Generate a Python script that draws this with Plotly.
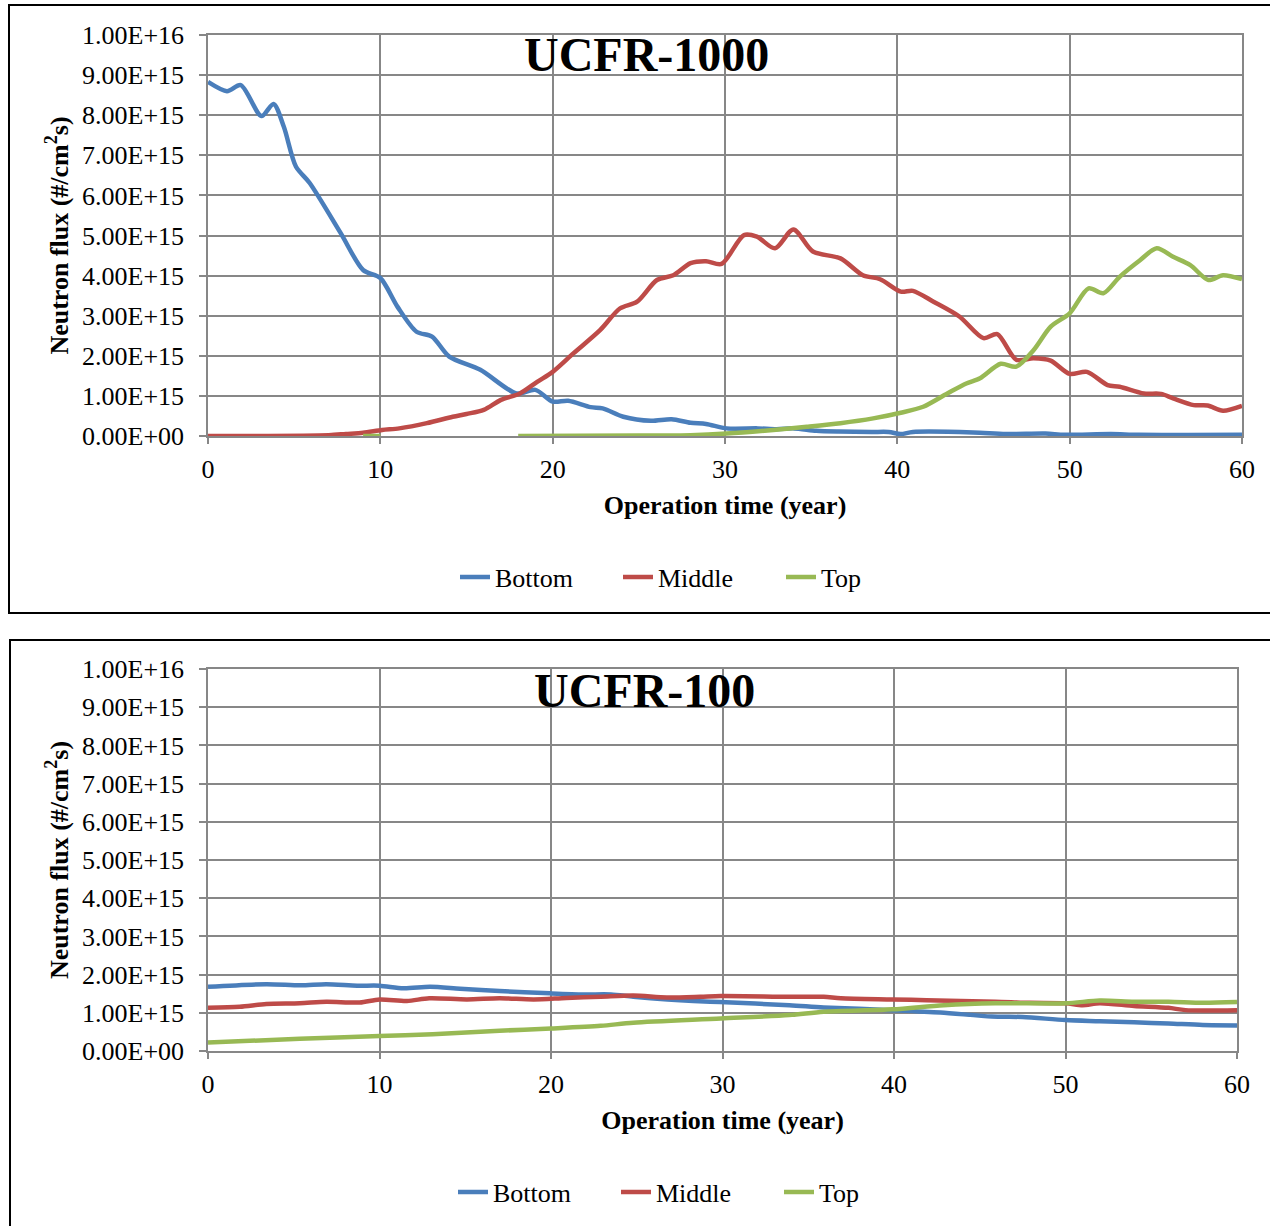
import plotly.graph_objects as go

# ---------------- data (values in units of 1e15 #/cm2s) ----------------
SCALE = 1e15

top_bottom_x = [0, 1.1, 1.9, 3.1, 3.8, 4.4, 5.1, 5.9, 7.7, 9.0, 10.0, 11.0, 12.1, 13.0, 14.0, 15.8,
                17.9, 19.0, 20.0, 20.9, 22.2, 22.9, 24.1, 25.7, 26.9, 28.0, 28.9, 30.1, 31.9, 33.0,
                34.0, 35.3, 36.6, 38.5, 39.5, 40.2, 40.9, 44.4, 46.3, 48.6, 49.7, 52.4, 54, 60]
top_bottom_y = [8.83, 8.6, 8.75, 7.98, 8.28, 7.71, 6.72, 6.31, 5.06, 4.14, 3.94, 3.22, 2.6, 2.48, 1.98, 1.65,
                1.06, 1.15, 0.86, 0.88, 0.72, 0.69, 0.48, 0.38, 0.42, 0.33, 0.30, 0.19, 0.19, 0.17,
                0.19, 0.13, 0.11, 0.10, 0.10, 0.05, 0.10, 0.09, 0.05, 0.06, 0.03, 0.05, 0.03, 0.03]

top_middle_x = [0, 7, 8, 9, 10.1, 11.1, 12.7, 14.2, 15.0, 16.0, 17.0, 18.1, 19.1, 20.0, 21.2, 22.75,
                23.9, 24.9, 26.05, 27.0, 28.0, 28.9, 29.8, 31.1, 31.85, 32.9, 33.97, 35.1, 36.7, 38.0,
                39.0, 40.2, 40.9, 42.1, 43.6, 45.0, 45.8, 46.9, 47.9, 48.9, 50.0, 51.0, 52.2, 52.9,
                54.3, 55.3, 56.0, 57.2, 58.0, 58.9, 60]
top_middle_y = [0.0, 0.02, 0.05, 0.08, 0.15, 0.19, 0.32, 0.48, 0.55, 0.65, 0.9, 1.06, 1.35, 1.6, 2.06, 2.64,
                3.18, 3.35, 3.89, 4.01, 4.31, 4.36, 4.29, 5.01, 4.97, 4.68, 5.15, 4.6, 4.43, 4.01,
                3.91, 3.6, 3.62, 3.35, 2.98, 2.44, 2.54, 1.9, 1.94, 1.88, 1.55, 1.6, 1.27, 1.23,
                1.06, 1.05, 0.94, 0.77, 0.76, 0.63, 0.75]

top_top_x = [9, 10, None, 18, 25, 28, 30.1, 32.8, 34.75, 36.7, 38.6, 40.2, 41.5, 42.9, 44.0, 44.8,
             46.0, 46.9, 47.9, 48.9, 50.0, 51.1, 51.95, 52.9, 54.1, 55.05, 56.0, 57.0, 58.05, 58.9, 60]
top_top_y = [0, 0, None, 0, 0.01, 0.02, 0.06, 0.15, 0.23, 0.32, 0.44, 0.58, 0.73, 1.06, 1.31, 1.44,
             1.80, 1.73, 2.14, 2.73, 3.06, 3.68, 3.56, 3.97, 4.39, 4.68, 4.47, 4.26, 3.89, 4.01, 3.91]

bot_bottom_x = [0, 3.4, 5.4, 6.9, 8.7, 10, 11.4, 12.95, 14.7, 17, 19.95, 21.9, 23.5, 24.8, 26.8, 28.3,
                29.85, 33.9, 35.9, 39.9, 42.7, 45.7, 47.5, 50, 52, 54, 56, 58, 60]
bot_bottom_y = [1.68, 1.75, 1.72, 1.75, 1.71, 1.71, 1.64, 1.68, 1.63, 1.57, 1.51, 1.48, 1.48, 1.42, 1.35, 1.31,
                1.28, 1.20, 1.14, 1.07, 1.01, 0.90, 0.89, 0.81, 0.78, 0.75, 0.72, 0.68, 0.67]

bot_middle_x = [0, 1.85, 3.4, 5.35, 6.9, 8.85, 10, 11.6, 12.9, 15.1, 17, 19, 20.9, 22.9, 24.8, 26.75,
                28.7, 29.9, 33.9, 35.9, 36.9, 39.9, 41.9, 45.9, 47.9, 50, 51, 52, 54, 56, 57, 60]
bot_middle_y = [1.13, 1.16, 1.23, 1.25, 1.29, 1.27, 1.35, 1.31, 1.38, 1.35, 1.38, 1.35, 1.39, 1.42, 1.45, 1.40,
                1.42, 1.44, 1.42, 1.42, 1.38, 1.35, 1.33, 1.29, 1.26, 1.25, 1.20, 1.25, 1.18, 1.13, 1.07, 1.07]

bot_top_x = [0, 5.35, 10, 13.1, 17, 20, 22.9, 24.8, 29.9, 33.9, 35.9, 39.9, 42.9, 45.9, 50, 52, 54, 56, 58, 60]
bot_top_y = [0.22, 0.32, 0.39, 0.44, 0.53, 0.59, 0.66, 0.74, 0.85, 0.94, 1.03, 1.09, 1.20, 1.25, 1.25, 1.32,
             1.29, 1.29, 1.26, 1.28]

y_tick_vals = [i * 1e15 for i in range(11)]
y_tick_text = ["0.00E+00", "1.00E+15", "2.00E+15", "3.00E+15", "4.00E+15", "5.00E+15",
               "6.00E+15", "7.00E+15", "8.00E+15", "9.00E+15", "1.00E+16"]
x_tick_vals = [0, 10, 20, 30, 40, 50, 60]

series_names = ["Bottom", "Middle", "Top"]
colors = ["#4A7EBB", "#BE4B48", "#98B954"]
titles = ["UCFR-1000", "UCFR-100"]

# ---------------- layout geometry ----------------
W, H = 1270, 1226
FONT = "Liberation Serif, Times New Roman, serif"
GRID = "#878787"


def px_x(p):
    return p / W


def px_y(p):
    return 1 - p / H


fig = go.Figure()


def sc(v):
    return [None if a is None else a * SCALE for a in v]


panels = [
    dict(xs=[top_bottom_x, top_middle_x, top_top_x], ys=[top_bottom_y, top_middle_y, top_top_y],
         xdom=(208, 1242), ydom=(35, 436), legend="legend", suffix=""),
    dict(xs=[bot_bottom_x, bot_middle_x, bot_top_x], ys=[bot_bottom_y, bot_middle_y, bot_top_y],
         xdom=(208, 1237), ydom=(669, 1051), legend="legend2", suffix="2"),
]

for pi, p in enumerate(panels):
    for k in range(3):
        fig.add_trace(go.Scatter(
            x=p["xs"][k], y=sc(p["ys"][k]), name=series_names[k], mode="lines",
            line=dict(color=colors[k], width=4.5, shape="spline", smoothing=0.8),
            xaxis="x" + p["suffix"], yaxis="y" + p["suffix"], legend=p["legend"],
            connectgaps=False, hoverinfo="x+y+name",
        ))

axis_common = dict(showgrid=True, gridcolor=GRID, gridwidth=1.5, showline=True, linecolor=GRID,
                   linewidth=1.5, mirror=True, ticks="outside", tickcolor=GRID, tickwidth=1.5,
                   zeroline=False, automargin=False,
                   tickfont=dict(family=FONT, size=26, color="#000000"))

layout_axes = {}
for pi, p in enumerate(panels):
    s = p["suffix"]
    xa = dict(axis_common, domain=[px_x(p["xdom"][0]), px_x(p["xdom"][1])], range=[0, 60],
              tickvals=x_tick_vals, ticklen=6, ticklabelstandoff=3,
              anchor="y" + s,
              title=dict(text="<b>Operation time (year)</b>", font=dict(family=FONT, size=26, color="#000"),
                         standoff=13))
    ya = dict(axis_common, domain=[px_y(p["ydom"][1]), px_y(p["ydom"][0])], range=[0, 1e16],
              tickvals=y_tick_vals, ticktext=y_tick_text, ticklen=7, ticklabelstandoff=10,
              anchor="x" + s,
              title=dict(text="<b>Neutron flux (#/cm<sup>2</sup>s)</b>",
                         font=dict(family=FONT, size=26, color="#000"), standoff=6))
    layout_axes["xaxis" + s] = xa
    layout_axes["yaxis" + s] = ya

fig.update_layout(**layout_axes)

legend_common = dict(orientation="h", xanchor="left", yanchor="middle", bgcolor="rgba(0,0,0,0)",
                     font=dict(family=FONT, size=26, color="#000"), itemwidth=30, tracegroupgap=0,
                     entrywidth=118, entrywidthmode="pixels")
fig.update_layout(
    width=W, height=H, margin=dict(l=0, r=0, t=0, b=0, pad=0, autoexpand=False),
    paper_bgcolor="white", plot_bgcolor="white", showlegend=True,
    legend=dict(legend_common, x=px_x(455), y=px_y(577)),
    legend2=dict(legend_common, x=px_x(453), y=px_y(1192)),
    font=dict(family=FONT, color="#000"),
)

# chart frames (open on the sides that run past the picture edge)
frame1 = "M {r},{t} L {l},{t} L {l},{b} L {r},{b}".format(
    l=px_x(9), r=1.0, t=px_y(5), b=px_y(613))
frame2 = "M {r},{t} L {l},{t} L {l},{b}".format(
    l=px_x(10), r=1.0, t=px_y(640), b=0.0)
for path in (frame1, frame2):
    fig.add_shape(type="path", xref="paper", yref="paper", path=path,
                  line=dict(color="#000", width=2), layer="below")

# chart titles
fig.add_annotation(text="<b>" + titles[0] + "</b>", xref="paper", yref="paper", x=px_x(646), y=px_y(54),
                   showarrow=False, font=dict(family=FONT, size=48, color="#000"),
                   xanchor="center", yanchor="middle")
fig.add_annotation(text="<b>" + titles[1] + "</b>", xref="paper", yref="paper", x=px_x(644), y=px_y(690),
                   showarrow=False, font=dict(family=FONT, size=48, color="#000"),
                   xanchor="center", yanchor="middle")

fig.write_html("out.html")
